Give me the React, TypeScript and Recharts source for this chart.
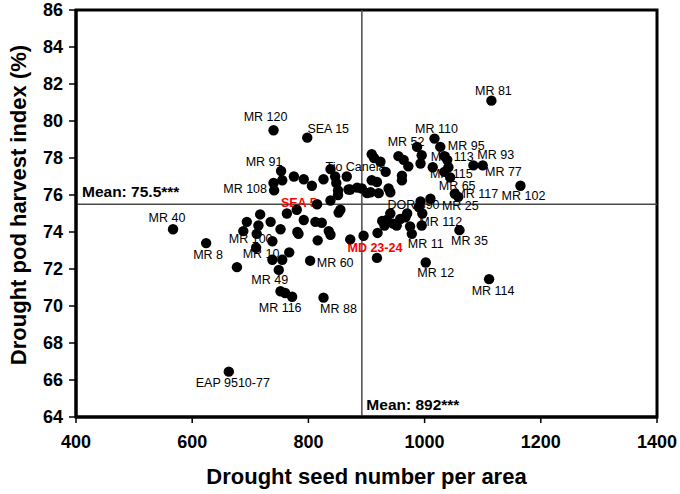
import React from 'react';
import {
  ScatterChart,
  Scatter,
  XAxis,
  YAxis,
  ReferenceLine,
  ReferenceArea,
  Label,
} from 'recharts';

// Drought seed number per area (x)
const seedNumber = [
  1115, 740, 798, 1017, 987, 1027, 1084, 1100, 1165, 1052,
  1058, 1044, 1034, 1014, 1039, 1041, 1034, 995, 993, 909,
  913, 924, 933, 955, 964, 972, 961, 961, 1060, 1002,
  1111, 918, 1010, 993, 990, 996, 970, 967, 941, 935,
  927, 958, 946, 975, 978, 995, 919, 895, 892, 907,
  921, 909, 918, 938, 941, 901, 872, 931, 952, 753,
  755, 740, 741, 775, 792, 806, 826, 838, 846, 848,
  851, 851, 866, 869, 884, 838, 780, 815, 763, 717,
  852, 694, 714, 735, 688, 711, 752, 738, 710, 767,
  738, 755, 749, 677, 803, 792, 812, 823, 781, 783,
  835, 838, 816, 872, 752, 760, 772, 826, 567, 624,
  663, 855,
];

// Drought pod harvest index (%) (y)
const podHarvestIndex = [
  81.1, 79.5, 79.1, 79.05, 78.6, 78.6, 77.6, 77.6, 76.5, 76.07,
  75.9, 76.95, 77.25, 77.5, 77.9, 77.5, 78.1, 78.15, 77.7, 78.2,
  78.0, 77.8, 77.25, 78.1, 77.9, 77.55, 77.05, 76.8, 74.1, 72.35,
  71.45, 72.6, 75.8, 75.65, 75.35, 75.0, 75.0, 74.8, 75.0, 74.65,
  74.6, 74.7, 74.45, 74.3, 73.9, 74.35, 73.95, 73.8, 76.35, 76.15,
  76.1, 76.8, 76.7, 76.35, 76.15, 76.1, 76.3, 74.35, 74.35, 77.3,
  76.8, 76.65, 76.25, 77.0, 76.85, 76.5, 76.85, 77.4, 77.0, 76.65,
  76.25, 76.0, 77.0, 76.3, 76.4, 75.7, 75.2, 75.5, 75.0, 74.95,
  75.05, 74.55, 74.35, 74.55, 74.05, 73.9, 74.15, 73.5, 73.15, 72.9,
  72.5, 72.5, 71.95, 72.1, 72.45, 74.65, 74.55, 74.5, 74.0, 73.9,
  74.05, 73.85, 73.55, 73.6, 70.8, 70.7, 70.5, 70.45, 74.15, 73.4,
  66.45, 75.2,
];

// Genotype labels ('' = unlabeled point)
const genotypes = [
  'MR 81', 'MR 120', 'SEA 15', 'MR 110', 'MR 52', 'MR 95', 'MR 77', 'MR 93', 'MR 102', 'MR 117',
  'MR 25', 'MR 65', 'MR 115', '', 'MR 113', '', '', '', '', '',
  '', '', '', '', '', '', '', '', 'MR 35', 'MR 12',
  'MR 114', 'MD 23-24', '', 'DOR 390', '', '', '', '', '', '',
  '', '', '', '', 'MR 11', 'MR 112', '', '', '', '',
  '', '', '', '', '', '', '', '', '', 'MR 91',
  '', '', 'MR 108', '', '', '', '', 'Tio Canela', '', '',
  '', '', '', '', '', '', 'SEA 5', '', '', '',
  '', '', '', '', '', 'MR 100', '', '', 'MR 10', '',
  '', '', 'MR 49', '', 'MR 60', '', '', '', '', '',
  '', '', '', '', '', 'MR 116', '', 'MR 88', 'MR 40', 'MR 8',
  'EAP 9510-77', '',
];

const highlighted = ['SEA 5', 'MD 23-24'];

const xTicks = [400, 600, 800, 1000, 1200, 1400];
const yTicks = [64, 66, 68, 70, 72, 74, 76, 78, 80, 82, 84, 86];

const meanSeed = 892;
const meanPHI = 75.5;
const meanSeedText = 'Mean: 892***';
const meanPHIText = 'Mean: 75.5***';

// label placement (pixel offsets of text centre from its point) - styling only
const labelOffsets: Record<string, [number, number]> = {
  'MR 81': [2, -10],
  'MR 120': [-8, -13],
  'SEA 15': [21, -9],
  'MR 110': [2, -10],
  'MR 52': [-11, -5],
  'MR 95': [26, -1],
  'MR 113': [5, -3],
  'MR 93': [13, -10],
  'MR 77': [30, 7],
  'MR 115': [7, 2],
  'MR 65': [7, 8.5],
  'MR 117': [22, 0.5],
  'MR 102': [3, 10],
  'DOR 390': [-7, 4],
  'MR 25': [2, 9.5],
  'MR 112': [19, -4],
  'MR 11': [14, 10],
  'MR 35': [10, 11],
  'MR 12': [10, 10],
  'MR 114': [4, 11.4],
  'MD 23-24': [-2, -10],
  'SEA 5': [2, -7],
  'MR 91': [-17, -9],
  'MR 108': [-29, -1],
  'Tio Canela': [25, -2],
  'MR 40': [-6, -11],
  'MR 8': [2, 12],
  'MR 100': [-6, 5],
  'MR 10': [5, 6],
  'MR 49': [-9, 10],
  'MR 60': [25, 2],
  'MR 116': [-5, 14.6],
  'MR 88': [15, 11],
  'EAP 9510-77': [4, 11.6],
};

const FONT = '"Liberation Sans", Arial, Helvetica, sans-serif';

const points = seedNumber.map((x, i) => ({
  x,
  y: podHarvestIndex[i],
  name: genotypes[i],
}));

function LabelShape(props: any) {
  const { cx, cy, payload } = props;
  const name = payload && payload.name;
  if (!name || cx == null || cy == null) return <g />;
  const off = labelOffsets[name] || [0, -10];
  const red = highlighted.includes(name);
  return (
    <text
      x={cx + off[0]}
      y={cy + off[1]}
      textAnchor="middle"
      dominantBaseline="central"
      fontFamily={FONT}
      fontSize={12.5}
      fontWeight={red ? 'bold' : 'normal'}
      fill={red ? '#ff0000' : '#000000'}
    >
      {name}
    </text>
  );
}

function DotShape(props: any) {
  const { cx, cy } = props;
  if (cx == null || cy == null) return <g />;
  return <circle cx={cx} cy={cy} r={5.2} fill="#000000" />;
}

export default function App() {
  return (
    <div style={{ position: 'absolute', left: 0, top: 0, width: 680, height: 494, background: '#fff' }}>
      <ScatterChart
        width={680}
        height={494}
        margin={{ top: 10, right: 23, bottom: 0, left: 0 }}
      >
        <XAxis
          type="number"
          dataKey="x"
          domain={[400, 1400]}
          ticks={xTicks}
          interval={0}
          allowDataOverflow
          height={77}
          axisLine={{ stroke: '#000', strokeWidth: 3 }}
          tickLine={{ stroke: '#000', strokeWidth: 1.5 }}
          tickSize={6}
          tickMargin={12}
          tick={{ fill: '#000', fontSize: 18, fontWeight: 'bold', fontFamily: FONT }}
        >
          <Label
            content={(p: any) => {
              const vb = p.viewBox || { x: 76, y: 417, width: 581 };
              return (
                <text
                  x={vb.x + vb.width / 2}
                  y={vb.y + 67}
                  textAnchor="middle"
                  fontFamily={FONT}
                  fontSize={22}
                  fontWeight="bold"
                  fill="#000"
                >
                  Drought seed number per area
                </text>
              );
            }}
          />
        </XAxis>
        <YAxis
          type="number"
          dataKey="y"
          domain={[64, 86]}
          ticks={yTicks}
          interval={0}
          allowDataOverflow
          width={76}
          axisLine={{ stroke: '#000', strokeWidth: 3 }}
          tickLine={{ stroke: '#000', strokeWidth: 1.5 }}
          tickSize={7}
          tickMargin={6}
          tick={{ fill: '#000', fontSize: 18, fontWeight: 'bold', fontFamily: FONT }}
        >
          <Label
            content={(p: any) => {
              const vb = p.viewBox || { x: 0, y: 10, width: 76, height: 407 };
              const cx = vb.x + 18;
              const cy = vb.y + 195;
              return (
                <text
                  x={cx}
                  y={cy}
                  transform={`rotate(-90 ${cx} ${cy})`}
                  textAnchor="middle"
                  dominantBaseline="central"
                  fontFamily={FONT}
                  fontSize={22}
                  fontWeight="bold"
                  fill="#000"
                >
                  Drought pod harvest index (%)
                </text>
              );
            }}
          />
        </YAxis>
        <ReferenceArea
          x1={400}
          x2={1400}
          y1={64}
          y2={86}
          fill="none"
          fillOpacity={0}
          stroke="#000"
          strokeWidth={3}
          ifOverflow="visible"
        />
        <ReferenceLine
          x={meanSeed}
          stroke="#4a4a4a"
          strokeWidth={1.5}
          label={(p: any) => {
            const vb = p.viewBox || {};
            return (
              <text
                x={vb.x + 4.5}
                y={vb.y + vb.height - 13}
                dominantBaseline="central"
                fontFamily={FONT}
                fontSize={15.5}
                fontWeight="bold"
                fill="#000"
              >
                {meanSeedText}
              </text>
            );
          }}
        />
        <ReferenceLine
          y={meanPHI}
          stroke="#4a4a4a"
          strokeWidth={1.5}
          label={(p: any) => {
            const vb = p.viewBox || {};
            return (
              <text
                x={vb.x + 6}
                y={vb.y - 13}
                dominantBaseline="central"
                fontFamily={FONT}
                fontSize={15.5}
                fontWeight="bold"
                fill="#000"
              >
                {meanPHIText}
              </text>
            );
          }}
        />
        <Scatter data={points} shape={LabelShape} isAnimationActive={false} />
        <Scatter data={points} shape={DotShape} isAnimationActive={false} />
      </ScatterChart>
    </div>
  );
}
